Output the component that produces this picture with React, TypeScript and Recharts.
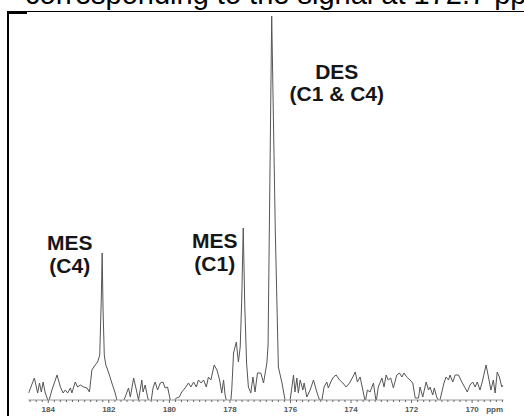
import { LineChart, Line, XAxis, YAxis, ReferenceDot } from 'recharts';

type Pt = [number, number];

// 13C spectrum trace, [ppm, intensity] pairs, downfield -> upfield
const baselineFar: Pt[] = [
  [184.65, 7], [184.46, 22], [184.35, 7], [184.29, 17], [184.23, 8], [184.17, 18], [184.1, 7],
  [183.99, -2], [183.88, 10], [183.71, 25], [183.6, 13], [183.51, 7], [183.44, 10], [183.36, 7],
  [183.27, 12], [183.22, 7], [183.11, 18], [183.03, 13], [182.94, 15], [182.83, 13], [182.72, 12],
  [182.64, 8],
];

const mesC4Peak: Pt[] = [
  [182.56, 30], [182.45, 35], [182.37, 38], [182.3, 45], [182.25, 100], [182.22, 147],
  [182.19, 90], [182.15, 45], [182.1, 35], [182.06, 32], [181.98, 25],
];

const baselineMid: Pt[] = [
  [181.9, 17], [181.79, 7], [181.71, -3], [181.65, 0], [181.57, -5], [181.46, 3], [181.35, 12],
  [181.29, 3], [181.18, 22], [181.09, 10], [181.02, 0], [180.91, 20], [180.87, 8], [180.8, 15],
  [180.72, 3], [180.63, -7], [180.54, 12], [180.47, 18], [180.39, 10], [180.3, 17], [180.21, 18],
  [180.14, 12], [180.06, 13], [179.97, 0], [179.88, -2], [179.77, 2], [179.67, 3], [179.59, 8],
  [179.48, 12], [179.37, 17], [179.29, 13], [179.2, 18], [179.11, 13], [179.04, 20], [178.95, 17],
  [178.87, 20], [178.78, 13], [178.71, 23], [178.63, 20], [178.52, 35], [178.43, 30], [178.34, 20],
  [178.27, 7], [178.21, 20], [178.16, 5], [178.08, -5], [178.01, -15],
];

const mesC1Peak: Pt[] = [
  [177.94, 10], [177.88, 47], [177.79, 58], [177.72, 38], [177.66, 53], [177.61, 100],
  [177.56, 172], [177.51, 95], [177.45, 37], [177.39, 13], [177.31, 7], [177.24, 23],
  [177.17, 8], [177.09, 27], [176.98, 27], [176.89, 17],
];

const desPeak: Pt[] = [
  [176.78, 37], [176.74, 55], [176.62, 384], [176.5, 167], [176.4, 33], [176.28, 17],
];

const baselineNear: Pt[] = [
  [176.18, 0], [176.1, -3], [176.01, 0], [175.9, 25], [175.85, 8], [175.79, 22], [175.74, 7],
  [175.68, 20], [175.59, 10], [175.55, 17], [175.46, 3], [175.35, 10], [175.24, 20], [175.13, 8],
  [175.04, 0], [174.96, 0], [174.89, 13], [174.8, 18], [174.75, 12], [174.67, 18], [174.58, 23],
  [174.49, 25], [174.38, 20], [174.27, 17], [174.16, 13], [174.05, 17], [173.94, 23], [173.86, 28],
  [173.79, 18], [173.7, 23], [173.61, 10], [173.53, -2], [173.46, 10], [173.37, 8], [173.26, 17],
  [173.17, -2], [173.1, 13], [172.98, 22], [172.91, 13],
];

const baselineUpfield: Pt[] = [
  [172.84, 25], [172.77, 20], [172.69, 22], [172.6, 12], [172.49, 25], [172.4, 27], [172.32, 23],
  [172.25, 27], [172.16, 23], [172.05, 20], [171.96, 17], [171.88, 2], [171.77, 2], [171.72, 13],
  [171.63, 3], [171.52, 18], [171.44, 10], [171.39, 13], [171.3, 5], [171.25, 12], [171.17, 3],
  [171.08, -2], [171.0, 8], [170.93, 17], [170.86, 23], [170.78, 20], [170.73, 25], [170.64, 18],
  [170.56, 25], [170.45, 25], [170.34, 18], [170.23, 12], [170.16, 8], [170.07, 15], [169.98, 18],
  [169.9, 13], [169.83, 18], [169.74, 10], [169.65, 20], [169.54, 35], [169.46, 23], [169.38, 10],
  [169.3, 20], [169.24, 7], [169.17, 28], [169.1, 23], [169.02, 13], [168.97, 15],
];

const majorTicks = [184, 182, 180, 178, 176, 174, 172, 170];

const spectrum = [
  ...baselineFar, ...mesC4Peak, ...baselineMid, ...mesC1Peak,
  ...desPeak, ...baselineNear, ...baselineUpfield,
].map(([ppm, intensity]) => ({ ppm, intensity }));

// minor ticks every 0.2 ppm along the axis
const axisTicks = Array.from({ length: 79 }, (_, i) => Math.round((169 + i * 0.2) * 10) / 10);

const FONT = '"Liberation Sans", Arial, Helvetica, sans-serif';

function PpmTick(props: any) {
  const { x, y, payload } = props;
  const v = payload.value as number;
  const major = majorTicks.includes(v);
  return (
    <g>
      <line x1={x} x2={x} y1={y} y2={y + (major ? 3 : 2)} stroke="#666" strokeWidth={1} />
      {major && (
        <text x={x} y={y + 11.5} textAnchor="middle" fontSize={8} fontWeight="bold" fontFamily={FONT} fill="#555">
          {v}
        </text>
      )}
      {v === 170 && (
        <text x={x + 22.5} y={y + 11.5} textAnchor="middle" fontSize={8} fontWeight="bold" fontFamily={FONT} fill="#555">
          ppm
        </text>
      )}
    </g>
  );
}

function PeakLabel(props: any) {
  const { viewBox, lines } = props;
  const x = viewBox.x;
  const y = viewBox.y;
  return (
    <text x={x} y={y} textAnchor="middle" fontSize={21} fontWeight="bold" fontFamily={FONT} fill="#161616">
      {lines.map((l: string, i: number) => (
        <tspan key={l} x={x} dy={i === 0 ? 0 : 22.5}>
          {l}
        </tspan>
      ))}
    </text>
  );
}

const peakLabels = [
  { ppm: 183.29, at: 150, lines: ['MES', '(C4)'] },
  { ppm: 178.5, at: 152, lines: ['MES', '(C1)'] },
  { ppm: 174.47, at: 321.5, lines: ['DES', '(C1 & C4)'] },
];

export default function App() {
  return (
    <div style={{ position: 'fixed', left: 0, top: 0, width: 524, height: 416, overflow: 'hidden', background: '#fff' }}>
      <style>{'.recharts-line, .recharts-line .recharts-layer { clip-path: none !important; }'}</style>
      <svg width={524} height={12} style={{ position: 'absolute', left: 0, top: 0 }}>
        <text x={25} y={3.5} fontSize={29} fontFamily={FONT} fill="#000">
          corresponding to the signal at 172.7 ppm
        </text>
      </svg>
      <div
        style={{
          position: 'absolute', left: 7, top: 11, width: 600, height: 500,
          borderLeft: '2px solid #000', borderTop: '1px solid #000',
        }}
      />
      <div style={{ position: 'absolute', left: 7, top: 11, width: 20, height: 2.5, background: '#000' }} />
      <div style={{ position: 'absolute', left: 0, top: 0 }}>
        <LineChart width={524} height={416} data={spectrum} margin={{ top: 16, right: 20.7, bottom: 0, left: 28.3 }}>
          <XAxis
            dataKey="ppm"
            type="number"
            domain={[168.97, 184.66]}
            reversed
            allowDataOverflow
            ticks={axisTicks}
            interval={0}
            height={16}
            tickSize={0}
            tickMargin={0}
            tickLine={false}
            axisLine={{ stroke: '#999', strokeWidth: 1 }}
            tick={<PpmTick />}
          />
          <YAxis hide domain={[0, 384]} allowDataOverflow width={0} />
          <Line
            type="linear"
            dataKey="intensity"
            stroke="#555"
            strokeWidth={1}
            dot={false}
            activeDot={false}
            isAnimationActive={false}
          />
          {peakLabels.map((p) => (
            <ReferenceDot
              key={p.lines[1]}
              x={p.ppm}
              y={p.at}
              r={0}
              fill="none"
              stroke="none"
              label={<PeakLabel lines={p.lines} />}
            />
          ))}
        </LineChart>
      </div>
    </div>
  );
}
